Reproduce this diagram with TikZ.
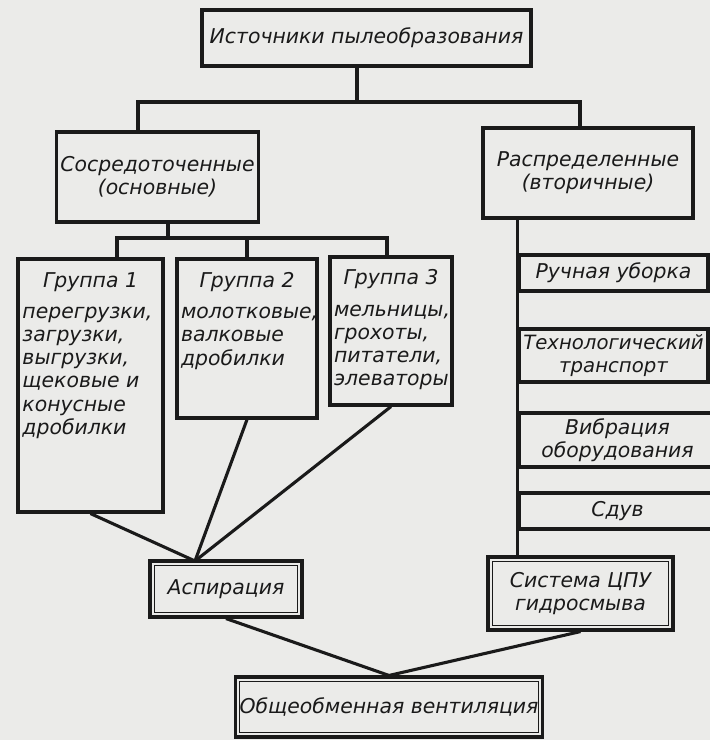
\documentclass[tikz,border=0pt]{standalone}
\usepackage{fontspec}
\setmainfont{DejaVu Sans}
\usetikzlibrary{calc}
\definecolor{ink}{HTML}{1A1A1A}
\definecolor{paper}{HTML}{EBEBE9}

\begin{document}
\begin{tikzpicture}[x=0.25mm,y=-0.25mm,
  font=\fontsize{14.5}{16.5}\selectfont\itshape,
  b/.style={draw=ink,text=ink,line width=2.2pt,inner sep=1mm,align=center},
  d/.style={b,path picture={\draw[ink,line width=1pt]
      ([shift={(3pt,-3pt)}]path picture bounding box.north west) rectangle
      ([shift={(-3pt,3pt)}]path picture bounding box.south east);}},
  l/.style={draw=ink,line width=2.2pt}]
\useasboundingbox (0,0) rectangle (710,740);
\fill[paper] (0,0) rectangle (710,740);
\node[b,minimum width=82.25mm,minimum height=14mm] (src) at (366.5,38) {Источники пылеобразования};
\node[b,minimum width=50.25mm,minimum height=22.5mm] (conc) at (157.5,177) {Сосредоточенные\\(основные)};
\node[b,minimum width=52.5mm,minimum height=22.5mm] (dist) at (588,173) {Распределенные\\(вторичные)};
\node[b,minimum width=36.25mm,minimum height=63.25mm] (g1) at (90.5,385.5)
  {\parbox[c][61mm][t]{34mm}{\vspace*{2.2mm}\centering Группа 1\par\vspace{2mm}\raggedright
   перегрузки,\\загрузки,\\выгрузки,\\щековые и\\конусные\\дробилки}};
\node[b,minimum width=35mm,minimum height=39.75mm] (g2) at (247,338.5)
  {\parbox[c][37.5mm][t]{33mm}{\vspace*{2.2mm}\centering Группа 2\par\vspace{2mm}\raggedright
   молотковые,\\валковые\\дробилки}};
\node[b,minimum width=30.5mm,minimum height=37mm] (g3) at (391,331)
  {\parbox[c][35mm][t]{28.5mm}{\vspace*{2.2mm}\centering Группа 3\par\vspace{2mm}\raggedright
   мельницы,\\грохоты,\\питатели,\\элеваторы}};
\node[b,minimum width=47.25mm,minimum height=9mm] (hand) at (613.5,273) {Ручная уборка};
\node[b,minimum width=47.25mm,minimum height=13.25mm,font=\fontsize{14}{16.5}\selectfont\itshape] (tech) at (613.5,355.5) {Технологический\\транспорт};
\node[b,minimum width=49.25mm,minimum height=13.5mm] (vib) at (617.5,440) {Вибрация\\оборудования};
\node[b,minimum width=49.25mm,minimum height=9mm] (sdv) at (617.5,511) {Сдув};
\node[d,minimum width=38mm,minimum height=14mm] (asp) at (226,589) {Аспирация};
\node[d,minimum width=46.25mm,minimum height=18.25mm] (sys) at (580.5,593.5) {Система ЦПУ\\гидросмыва};
\node[d,minimum width=74.5mm,minimum height=15mm] (gen) at (389,707) {Общеобменная вентиляция};
\coordinate (jt) at (357,102);
\coordinate (jl) at (138,102);
\coordinate (jr) at (580,102);
\coordinate (jc) at (168,238);
\coordinate (ga) at (117,238);
\coordinate (gb) at (387,238);
\coordinate (ain) at (195,561);
\draw[l] (src.south -| jt) -- (jt);
\draw[l] (jl |- conc.north) -- (jl) -- (jr) -- (jr |- dist.north);
\draw[l] (conc.south -| jc) -- (jc);
\draw[l] (ga |- g1.north) -- (ga) -- (gb) -- (gb |- g3.north);
\draw[l] (g2.north) -- (g2.north |- ga);
\draw[l] (dist.south -| hand.west) -- (sys.north -| hand.west);
\foreach \g in {g1,g2,g3} \draw[l] (\g.south) -- (ain);
\draw[l] (asp.south) -- (gen.north) -- (sys.south);
\end{tikzpicture}
\end{document}
